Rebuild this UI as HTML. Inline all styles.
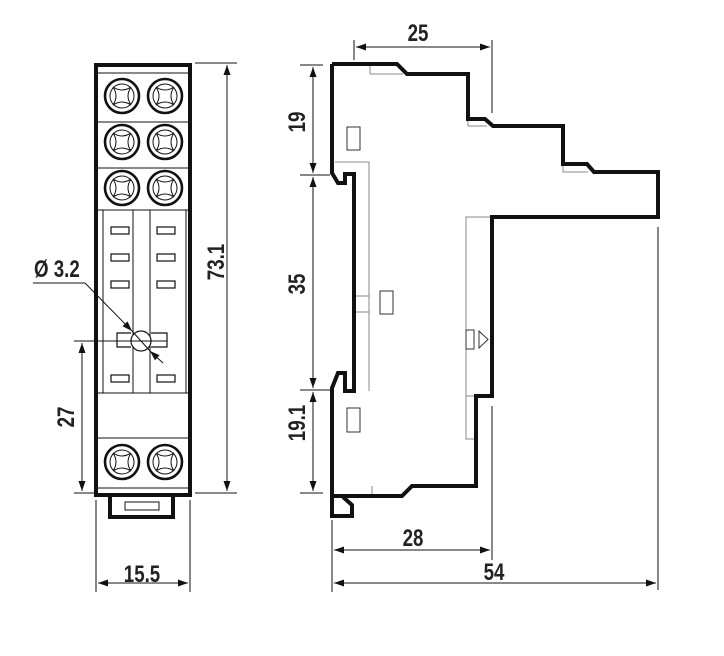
<!DOCTYPE html>
<html><head><meta charset="utf-8"><style>
html,body{margin:0;padding:0;background:#fff;}
svg{display:block;}
text{font-family:"Liberation Sans Narrow","Liberation Sans",sans-serif;font-weight:bold;font-size:24px;fill:#222;}
</style></head><body>
<svg width="724" height="656" viewBox="0 0 724 656" xmlns="http://www.w3.org/2000/svg">
<defs>
<marker id="a" viewBox="0 0 10 10" refX="10" refY="5" markerWidth="10" markerHeight="10" markerUnits="userSpaceOnUse" orient="auto-start-reverse"><path d="M0,1.5 L10,5 L0,8.5 z" fill="#111"/></marker>
<g id="scr">
<circle r="17" fill="none" stroke="#111" stroke-width="2.6"/>
<circle r="12" fill="none" stroke="#111" stroke-width="1"/>
<path d="M-9,-9 Q0,-3 9,-9 Q3,0 9,9 Q0,3 -9,9 Q-3,0 -9,-9 z" fill="none" stroke="#111" stroke-width="1"/>
</g>
</defs>

<!-- FRONT VIEW -->
<g stroke="#111" fill="none">
<rect x="96" y="65" width="94" height="430" stroke-width="4"/>
<line x1="98" y1="73" x2="188" y2="73" stroke-width="1"/>
<line x1="98" y1="122" x2="188" y2="122" stroke-width="1"/>
<line x1="98" y1="168" x2="188" y2="168" stroke-width="1"/>
<line x1="98" y1="210" x2="188" y2="210" stroke-width="1"/>
<line x1="103" y1="210" x2="103" y2="393" stroke-width="1"/>
<line x1="133" y1="210" x2="133" y2="393" stroke-width="1"/>
<line x1="150" y1="210" x2="150" y2="393" stroke-width="1"/>
<line x1="186" y1="210" x2="186" y2="393" stroke-width="1"/>
<line x1="98" y1="393" x2="188" y2="393" stroke-width="1"/>
<line x1="98" y1="438" x2="188" y2="438" stroke-width="1"/>
<line x1="98" y1="488" x2="188" y2="488" stroke-width="1"/>
<g stroke-width="1.2">
<rect x="111" y="227" width="18" height="7"/><rect x="157" y="227" width="18" height="7"/>
<rect x="111" y="254" width="18" height="7"/><rect x="157" y="254" width="18" height="7"/>
<rect x="111" y="281" width="18" height="7"/><rect x="157" y="281" width="18" height="7"/>
<rect x="111" y="375" width="18" height="7"/><rect x="157" y="375" width="18" height="7"/>
</g>
<path d="M131,333 L117,333 L117,347 L131,347 M151,333 L167,333 L167,347 L151,347" stroke-width="1.2" fill="#fff"/>
<circle cx="141" cy="341" r="10" stroke-width="1.2" fill="#fff"/>
<path d="M110,497 L110,517 L173,517 L173,497" stroke-width="4"/>
<rect x="125" y="502" width="34" height="8" stroke-width="1"/>
</g>
<use href="#scr" x="122" y="96"/><use href="#scr" x="165" y="96"/>
<use href="#scr" x="122" y="142"/><use href="#scr" x="165" y="142"/>
<use href="#scr" x="122" y="188"/><use href="#scr" x="165" y="188"/>
<use href="#scr" x="122" y="462"/><use href="#scr" x="165" y="462"/>

<!-- front dims -->
<g stroke="#111" stroke-width="1" fill="none">
<line x1="195" y1="63" x2="237" y2="63"/><line x1="195" y1="493" x2="237" y2="493"/>
<line x1="227" y1="65" x2="227" y2="491" marker-start="url(#a)" marker-end="url(#a)"/>
<line x1="74" y1="341" x2="167" y2="341"/><line x1="74" y1="493" x2="94" y2="493"/>
<line x1="82" y1="343" x2="82" y2="491" marker-start="url(#a)" marker-end="url(#a)"/>
<polyline points="33,283 85,283 132,331" marker-end="url(#a)"/>
<line x1="163" y1="363" x2="150" y2="351" marker-end="url(#a)"/>
<line x1="132" y1="331" x2="150" y2="351"/>
<line x1="96" y1="500" x2="96" y2="592"/><line x1="190" y1="500" x2="190" y2="592"/>
<line x1="98" y1="583" x2="188" y2="583" marker-start="url(#a)" marker-end="url(#a)"/>
</g>
<text transform="translate(34,277) scale(0.78,1)">Ø 3.2</text>
<text transform="translate(142,582) scale(0.78,1)" text-anchor="middle">15.5</text>
<text transform="translate(224,262) rotate(-90) scale(0.78,1)" text-anchor="middle">73.1</text>
<text transform="translate(74,417) rotate(-90) scale(0.78,1)" text-anchor="middle">27</text>

<!-- SIDE VIEW -->
<g stroke="#888" stroke-width="1" fill="none">
<polyline points="335,162 369,162 369,391"/>
<line x1="354" y1="296" x2="369" y2="296"/><line x1="354" y1="312" x2="369" y2="312"/>
<rect x="347" y="127" width="13" height="23" stroke="#333"/>
<rect x="380" y="291" width="13" height="23" stroke="#333"/>
<rect x="347" y="408" width="13" height="24" stroke="#333"/>
<polyline points="492,217 466,217 466,439 476,439"/>
<line x1="466" y1="396" x2="476" y2="396"/>
<rect x="466" y="330" width="8" height="19" stroke="#333"/>
<path d="M479,331 L488,339.5 L479,348 z" stroke="#333"/>
<polyline points="370,64 370,74 403,74"/>
<polyline points="468,119 468,126 487,126"/>
<polyline points="563,164 563,172 588,172"/>
<polyline points="372,486 372,496"/>
</g>
<path d="M332,64 L397,64 L407,74 L468,74 L468,119 L485,119 L493,126 L563,126 L563,164 L587,164 L594,172 L658,172 L658,217 L492,217 L492,396 L476,396 L476,486 L412,486 L402,496 L332,496 L332,516 L352,516 L352,505 L343,497 M332,64 L332,173 L338,183 L345,183 L345,174 L354,174 L354,391 L345,391 L345,373 L338,373 L332,388 L332,497" stroke="#111" stroke-width="4" fill="none" stroke-linejoin="miter"/>

<!-- side dims -->
<g stroke="#111" stroke-width="1" fill="none">
<line x1="354" y1="40" x2="354" y2="60"/><line x1="492" y1="40" x2="492" y2="113"/>
<line x1="356" y1="47" x2="490" y2="47" marker-start="url(#a)" marker-end="url(#a)"/>
<line x1="300" y1="65" x2="323" y2="65"/><line x1="300" y1="175" x2="330" y2="175"/>
<line x1="300" y1="390" x2="330" y2="390"/><line x1="300" y1="493" x2="323" y2="493"/>
<line x1="313" y1="67" x2="313" y2="173" marker-start="url(#a)" marker-end="url(#a)"/>
<line x1="313" y1="177" x2="313" y2="388" marker-start="url(#a)" marker-end="url(#a)"/>
<line x1="313" y1="392" x2="313" y2="491" marker-start="url(#a)" marker-end="url(#a)"/>
<line x1="658" y1="227" x2="658" y2="590"/>
<line x1="492" y1="406" x2="492" y2="560"/>
<line x1="332" y1="520" x2="332" y2="592"/>
<line x1="334" y1="550" x2="490" y2="550" marker-start="url(#a)" marker-end="url(#a)"/>
<line x1="334" y1="583" x2="656" y2="583" marker-start="url(#a)" marker-end="url(#a)"/>
</g>
<text transform="translate(418,41) scale(0.78,1)" text-anchor="middle">25</text>
<text transform="translate(413,546) scale(0.78,1)" text-anchor="middle">28</text>
<text transform="translate(494,580) scale(0.78,1)" text-anchor="middle">54</text>
<text transform="translate(305,122) rotate(-90) scale(0.78,1)" text-anchor="middle">19</text>
<text transform="translate(305,284) rotate(-90) scale(0.78,1)" text-anchor="middle">35</text>
<text transform="translate(305,423) rotate(-90) scale(0.78,1)" text-anchor="middle">19.1</text>
</svg>
</body></html>
